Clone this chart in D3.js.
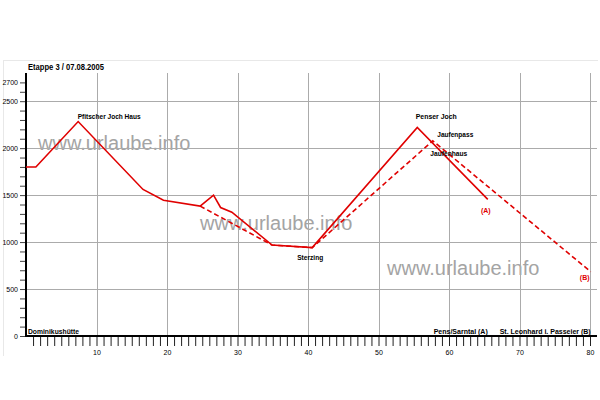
<!DOCTYPE html>
<html><head><meta charset="utf-8">
<script src="https://cdn.jsdelivr.net/npm/d3@7"></script>
<style>
body{margin:0;background:#fff;}
svg{display:block;font-family:"Liberation Sans",Arial,sans-serif;}
</style></head><body>
<svg id="c" width="600" height="400"></svg>
<script>
// ---- data ----
const title = "Etappe 3 / 07.08.2005";
const routeA = [[0,1800],[1.4,1800],[7.4,2283],[16.6,1560],[19.5,1445],[24.7,1383],[26.6,1500],[27.6,1368],[29.2,1318],[34.9,968],[40.6,941],[55.5,2220],[65.5,1454]];
const routeB = [[24.7,1383],[34.9,968],[40.6,941],[57.7,2078],[80.1,684]];
const yTickValues = d3.range(0, 2701, 100);
const yLabelValues = [0,500,1000,1500,2000,2500,2700];
const xTickValues = d3.range(1, 81, 1);
const xLabelValues = [10,20,30,40,50,60,70,80];
const gridY = [500,1000,1500,2000,2500];
const gridX = [10,20,30,40,50,60,70,80];
// place names: [name, km, elevation]
const placeNames = [
  ["Pfitscher Joch Haus", 7.4, 2283],
  ["Dominikushütte", 0, 0],
  ["Sterzing", 40.6, 941],
  ["Penser Joch", 55.5, 2220],
  ["Jaufenpass", 57.7, 2078],
  ["Jaufenhaus", 57.7, 2078]
];
const endMarks = [["(A)", 65.5, 1454], ["(B)", 80.1, 684]];
const endNames = [["Pens/Sarntal (A)", 65.5], ["St. Leonhard i. Passeier (B)", 80.1]];
const watermark = "www.urlaube.info";

// ---- layout ----
const svg = d3.select("#c");
const x = d3.scaleLinear().domain([0, 80]).range([26, 590]);
const y = d3.scaleLinear().domain([0, 2800]).range([336, 73]);
const red = "#e00000";

// frame
svg.append("line").attr("x1",3).attr("x2",598).attr("y1",60.5).attr("y2",60.5).attr("stroke","#e8e8e8");
svg.append("line").attr("x1",3.5).attr("x2",3.5).attr("y1",60).attr("y2",356).attr("stroke","#e8e8e8");

// watermarks
const wm = [[38,150],[200,230],[387,275]];
wm.forEach(p => svg.append("text").attr("x",p[0]).attr("y",p[1]).attr("font-size",20)
  .attr("fill","#a4a4a4").text(watermark));

// grid
svg.append("g").selectAll("line").data(gridY).join("line")
  .attr("x1", x(0)).attr("x2", 597).attr("y1", d=>Math.round(y(d))+0.5).attr("y2", d=>Math.round(y(d))+0.5)
  .attr("stroke","#ababab");
svg.append("g").selectAll("line").data(gridX).join("line")
  .attr("y1", y(2800)).attr("y2", y(0)).attr("x1", d=>Math.round(x(d))+0.5).attr("x2", d=>Math.round(x(d))+0.5)
  .attr("stroke","#ababab");

// title
svg.append("text").attr("x",28).attr("y",70).attr("font-size",9).attr("font-weight","bold")
  .attr("textLength",76).attr("lengthAdjust","spacingAndGlyphs").text(title);

// axes
const yAxis = d3.axisLeft(y).tickValues(yTickValues).tickSize(6).tickPadding(2)
  .tickFormat(d => yLabelValues.includes(d) ? d : "");
const gy = svg.append("g").attr("transform","translate(26,0)").call(yAxis);
gy.select(".domain").remove();
gy.selectAll("text").attr("font-size",7).attr("font-family","Liberation Sans, Arial, sans-serif");
gy.selectAll("line").attr("stroke","#444");

const xAxis = d3.axisBottom(x).tickValues(xTickValues).tickSize(10).tickPadding(4)
  .tickFormat(d => xLabelValues.includes(d) ? d : "");
const gx = svg.append("g").attr("transform","translate(0,336)").call(xAxis);
gx.select(".domain").remove();
gx.selectAll("text").attr("font-size",7).attr("font-family","Liberation Sans, Arial, sans-serif");
gx.selectAll("line").attr("stroke","#222");

svg.append("line").attr("x1",26).attr("x2",26).attr("y1",y(2800)).attr("y2",y(0)+1).attr("stroke","#000").attr("stroke-width",2);
svg.append("line").attr("x1",25).attr("x2",597).attr("y1",y(0)).attr("y2",y(0)).attr("stroke","#000").attr("stroke-width",2);

// lines
const line = d3.line().x(d=>x(d[0])).y(d=>y(d[1]));
svg.append("path").datum(routeB).attr("d",line).attr("fill","none").attr("stroke",red)
  .attr("stroke-width",1.6).attr("stroke-dasharray","5,3");
svg.append("path").datum(routeA).attr("d",line).attr("fill","none").attr("stroke",red)
  .attr("stroke-width",1.6);

// place labels: [dx from point, dy from point, width]
const lab = {
  "Pfitscher Joch Haus":[-0.5,-3,63],
  "Dominikushütte":[2,-2,51],
  "Sterzing":[-15,12,26],
  "Penser Joch":[-1.5,-8,41],
  "Jaufenpass":[4.5,-4,36],
  "Jaufenhaus":[-2.5,15,37]
};
placeNames.forEach(p => {
  const o = lab[p[0]];
  svg.append("text")
    .attr("x", x(p[1]) + o[0])
    .attr("y", y(p[2]) + o[1])
    .attr("font-size",7).attr("font-weight","bold")
    .attr("textLength", o[2]).attr("lengthAdjust","spacingAndGlyphs")
    .text(p[0]);
});
const endOff = {"(A)":[-2,14], "(B)":[-6,8]};
endMarks.forEach(e => svg.append("text").attr("x", x(e[1])+endOff[e[0]][0]).attr("y", y(e[2])+endOff[e[0]][1])
  .attr("text-anchor","middle").attr("font-size",7).attr("font-weight","bold").attr("fill",red).text(e[0]));
endNames.forEach(e => svg.append("text").attr("x", x(e[1])).attr("y", 334)
  .attr("text-anchor","end").attr("font-size",7).attr("font-weight","bold").text(e[0]));
</script>
</body></html>
